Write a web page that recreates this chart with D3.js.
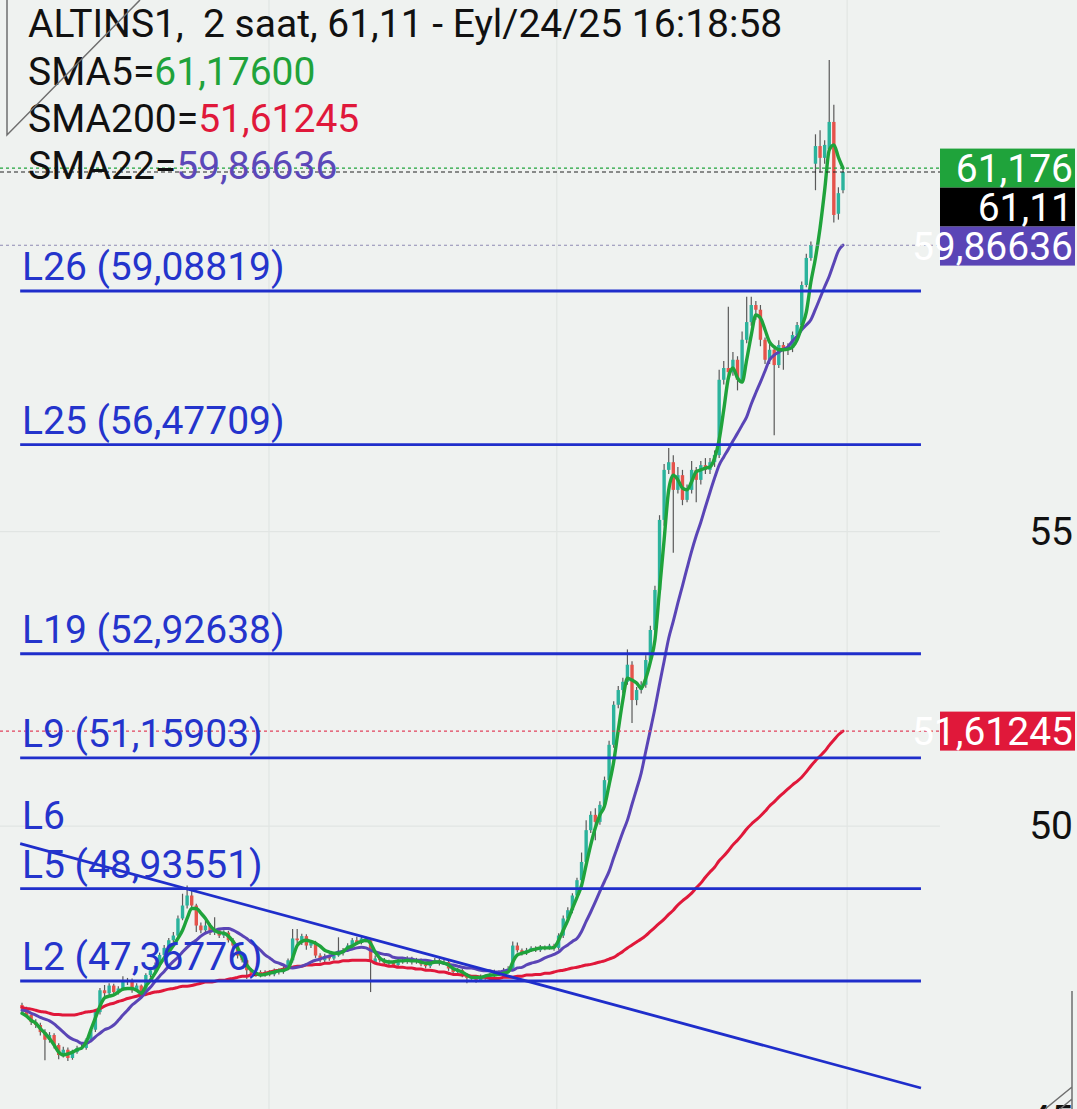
<!DOCTYPE html>
<html>
<head>
<meta charset="utf-8">
<script src="https://cdn.jsdelivr.net/npm/d3@7"></script>
<style>
  html, body { margin: 0; padding: 0; background: #eff2f0; }
  svg { display: block; }
  text { font-family: Roboto, "Noto Sans", sans-serif; }
</style>
</head>
<body>
<svg id="chart" width="1077" height="1109"></svg>
<script>
// ALTINS1, 2-hour candles with SMA5 / SMA22 / SMA200 and drawn levels

const opens = [
46.96,46.90,46.79,46.67,46.62,46.50,46.37,46.45,46.28,46.11,
46.20,46.06,46.16,46.23,46.23,46.37,46.54,46.84,47.21,47.16,
47.29,47.18,47.24,47.35,47.38,47.21,47.29,47.18,47.47,47.55,
47.64,47.81,47.93,48.06,48.14,48.43,48.65,48.82,48.65,48.31,
48.23,48.31,48.19,48.23,48.14,48.19,48.06,47.97,47.80,47.72,
47.55,47.47,47.52,47.47,47.52,47.48,47.55,47.52,47.58,47.72,
48.09,48.06,48.13,47.97,48.02,47.80,47.72,47.79,47.75,47.80,
47.84,47.89,47.97,48.06,48.02,48.09,48.06,47.69,47.75,47.72,
47.67,47.69,47.64,47.72,47.69,47.75,47.69,47.72,47.65,47.62,
47.69,47.72,47.67,47.69,47.58,47.52,47.55,47.47,47.42,47.43,
47.38,47.45,47.42,47.47,47.52,47.48,47.55,47.58,47.97,47.89,
47.84,47.89,47.93,47.89,47.94,47.93,47.97,47.93,48.14,48.43,
48.57,48.82,49.08,49.39,49.93,50.19,50.07,50.36,50.78,51.38,
52.06,52.31,52.45,52.74,52.14,52.31,52.40,52.82,53.33,54.01,
55.20,56.05,56.18,55.71,55.96,55.54,55.71,56.05,55.88,56.13,
56.05,56.18,56.30,57.58,57.78,57.71,57.92,57.58,58.26,58.56,
58.85,58.77,58.26,57.92,58.09,57.83,58.17,58.09,58.12,58.34,
58.51,59.19,59.65,61.25,61.55,61.35,61.50,61.96,60.40,60.80];

const highs = [
47.00,46.93,46.83,46.72,46.66,46.55,46.50,46.48,46.31,46.25,
46.24,46.20,46.27,46.30,46.40,46.58,46.88,47.25,47.30,47.33,
47.32,47.28,47.45,47.42,47.41,47.33,47.31,47.50,47.60,47.68,
47.85,47.98,48.10,48.20,48.48,48.85,48.99,48.90,48.68,48.36,
48.40,48.35,48.45,48.27,48.23,48.22,48.10,48.00,47.84,47.75,
47.58,47.56,47.55,47.55,47.55,47.58,47.58,47.62,47.75,48.25,
48.25,48.17,48.16,48.06,48.05,47.84,47.83,47.82,47.84,48.11,
47.93,48.01,48.10,48.12,48.13,48.12,48.10,47.80,47.78,47.76,
47.73,47.72,47.75,47.76,47.79,47.78,47.76,47.75,47.68,47.72,
47.76,47.75,47.73,47.72,47.62,47.59,47.58,47.50,47.47,47.46,
47.48,47.48,47.50,47.56,47.55,47.59,47.62,48.04,48.02,47.92,
47.93,47.96,47.96,47.98,47.97,48.00,48.00,48.18,48.48,48.62,
48.86,49.12,49.55,50.10,50.25,50.30,50.42,50.84,51.45,52.12,
52.38,52.52,53.00,52.80,52.36,52.46,52.90,53.40,54.08,55.28,
56.15,56.42,56.30,56.10,56.05,55.80,56.20,56.10,56.20,56.25,
56.25,56.38,57.75,57.90,58.82,58.05,57.98,58.40,58.99,58.99,
58.92,58.85,58.30,58.20,58.15,58.25,58.22,58.20,58.40,58.56,
59.25,59.72,59.93,61.75,61.82,61.65,63.01,62.25,60.85,61.18];

const lows = [
46.85,46.74,46.62,46.57,46.44,46.02,46.32,46.22,46.04,46.07,
46.01,46.03,46.13,46.20,46.20,46.34,46.50,46.80,47.10,47.12,
47.14,47.14,47.20,47.30,47.17,47.18,47.14,47.15,47.43,47.50,
47.60,47.77,47.89,48.02,48.10,48.40,48.60,48.60,48.20,48.18,
48.20,48.15,48.15,48.10,48.10,48.02,47.93,47.75,47.68,47.40,
47.42,47.44,47.43,47.44,47.45,47.45,47.48,47.49,47.55,47.68,
48.00,47.98,47.90,47.93,47.76,47.68,47.69,47.71,47.72,47.78,
47.80,47.86,47.94,47.98,47.99,48.02,47.18,47.65,47.68,47.63,
47.64,47.60,47.61,47.66,47.66,47.65,47.66,47.62,47.58,47.59,
47.66,47.63,47.64,47.54,47.48,47.49,47.43,47.33,47.39,47.34,
47.35,47.39,47.39,47.44,47.45,47.45,47.52,47.55,47.85,47.80,
47.81,47.86,47.86,47.86,47.89,47.90,47.88,47.90,48.10,48.38,
48.52,48.78,49.03,49.35,49.88,49.76,50.02,50.30,50.72,51.33,
52.00,52.25,52.40,51.75,52.05,52.25,52.35,52.78,53.28,53.95,
55.10,55.98,54.64,55.65,55.45,55.50,55.65,55.50,55.80,55.98,
55.98,56.10,56.25,57.50,57.55,57.65,57.40,57.52,58.20,58.50,
58.60,58.15,57.85,57.85,56.64,57.78,57.75,58.00,58.05,58.28,
58.45,59.15,59.60,60.80,61.10,61.25,61.45,60.25,60.30,60.75];

const closes = [
46.90,46.79,46.67,46.62,46.50,46.37,46.45,46.28,46.11,46.20,
46.06,46.16,46.23,46.23,46.37,46.54,46.84,47.21,47.16,47.29,
47.18,47.24,47.35,47.38,47.21,47.29,47.18,47.47,47.55,47.64,
47.81,47.93,48.06,48.14,48.43,48.65,48.82,48.65,48.31,48.23,
48.31,48.19,48.23,48.14,48.19,48.06,47.97,47.80,47.72,47.55,
47.47,47.52,47.47,47.52,47.48,47.55,47.52,47.58,47.72,48.09,
48.06,48.13,47.97,48.02,47.80,47.72,47.79,47.75,47.80,47.84,
47.89,47.97,48.06,48.02,48.09,48.06,47.69,47.75,47.72,47.67,
47.69,47.64,47.72,47.69,47.75,47.69,47.72,47.65,47.62,47.69,
47.72,47.67,47.69,47.58,47.52,47.55,47.47,47.42,47.43,47.38,
47.45,47.42,47.47,47.52,47.48,47.55,47.58,47.97,47.89,47.84,
47.89,47.93,47.89,47.94,47.93,47.97,47.93,48.14,48.43,48.57,
48.82,49.08,49.39,49.93,50.19,50.07,50.36,50.78,51.38,52.06,
52.31,52.45,52.74,52.14,52.31,52.40,52.82,53.33,54.01,55.20,
56.05,56.18,55.71,55.96,55.54,55.71,56.05,55.88,56.13,56.05,
56.18,56.30,57.58,57.78,57.71,57.92,57.58,58.26,58.56,58.85,
58.77,58.26,57.92,58.09,57.83,58.17,58.09,58.12,58.34,58.51,
59.19,59.65,59.87,61.55,61.35,61.57,61.96,60.38,60.75,61.11];

const sma5 = [
46.82,46.77,46.70,46.65,46.56,46.48,46.39,46.28,46.16,46.11,
46.13,46.16,46.20,46.23,46.33,46.54,46.74,46.94,47.08,47.11,
47.13,47.18,47.23,47.24,47.24,47.21,47.16,47.28,47.38,47.50,
47.64,47.76,47.86,47.97,48.09,48.23,48.43,48.60,48.60,48.52,
48.43,48.31,48.23,48.19,48.18,48.13,48.04,47.93,47.77,47.64,
47.55,47.50,47.47,47.48,47.50,47.52,47.54,47.55,47.58,47.76,
47.97,48.04,48.06,48.04,48.01,47.96,47.89,47.86,47.84,47.84,
47.87,47.93,47.96,48.01,48.04,48.06,48.01,47.86,47.76,47.71,
47.69,47.69,47.71,47.71,47.72,47.71,47.71,47.69,47.67,47.67,
47.69,47.69,47.67,47.64,47.58,47.55,47.52,47.47,47.43,47.43,
47.43,47.45,47.47,47.47,47.48,47.50,47.52,47.69,47.81,47.84,
47.86,47.89,47.91,47.93,47.93,47.93,47.94,48.06,48.23,48.40,
48.60,48.79,48.99,49.34,49.68,49.97,50.19,50.34,50.70,51.09,
51.63,52.14,52.51,52.48,52.43,52.34,52.51,52.79,53.16,54.01,
54.86,55.71,55.96,55.88,55.74,55.71,55.85,56.02,56.05,56.08,
56.10,56.25,56.56,57.07,57.61,57.78,57.61,57.54,57.92,58.34,
58.68,58.63,58.43,58.22,58.14,58.09,58.09,58.10,58.14,58.26,
58.48,58.73,59.24,59.65,60.16,60.80,61.48,61.57,61.36,61.176];

const sma22 = [
46.87,46.86,46.82,46.79,46.75,46.72,46.69,46.64,46.57,46.50,
46.43,46.38,46.35,46.31,46.31,46.35,46.42,46.48,46.54,46.57,
46.62,46.70,46.79,46.87,46.96,47.02,47.09,47.18,47.26,47.36,
47.45,47.53,47.62,47.70,47.77,47.86,47.94,48.01,48.06,48.13,
48.18,48.21,48.23,48.25,48.26,48.26,48.23,48.19,48.14,48.09,
48.02,47.96,47.89,47.81,47.76,47.70,47.67,47.64,47.60,47.59,
47.60,47.62,47.65,47.69,47.72,47.74,47.77,47.79,47.82,47.86,
47.87,47.89,47.91,47.93,47.94,47.93,47.89,47.86,47.84,47.82,
47.81,47.77,47.76,47.76,47.74,47.74,47.72,47.72,47.72,47.71,
47.69,47.69,47.67,47.65,47.64,47.62,47.60,47.59,47.59,47.57,
47.55,47.54,47.54,47.52,47.52,47.54,47.55,47.55,47.59,47.60,
47.64,47.67,47.69,47.72,47.76,47.79,47.82,47.86,47.93,47.98,
48.04,48.09,48.21,48.38,48.54,48.71,48.89,49.06,49.23,49.46,
49.68,49.90,50.10,50.37,50.63,50.90,51.27,51.63,52.00,52.41,
52.80,53.19,53.48,53.79,54.08,54.38,54.67,54.93,55.16,55.42,
55.67,55.91,56.13,56.27,56.40,56.54,56.67,56.81,56.95,57.17,
57.36,57.54,57.73,57.92,58.00,58.05,58.10,58.14,58.24,58.32,
58.43,58.51,58.60,58.78,58.97,59.16,59.34,59.56,59.77,59.86636];

const sma200 = [
46.92,46.90,46.89,46.87,46.85,46.84,46.82,46.80,46.80,46.79,
46.79,46.79,46.80,46.82,46.84,46.85,46.87,46.90,46.94,46.97,
46.99,47.02,47.04,47.07,47.09,47.11,47.13,47.14,47.16,47.18,
47.19,47.21,47.23,47.24,47.26,47.28,47.28,47.29,47.31,47.33,
47.35,47.35,47.36,47.38,47.38,47.40,47.41,47.43,47.45,47.45,
47.47,47.48,47.48,47.50,47.52,47.54,47.55,47.57,47.59,47.60,
47.62,47.62,47.64,47.64,47.65,47.65,47.67,47.67,47.69,47.69,
47.71,47.71,47.72,47.72,47.72,47.72,47.71,47.67,47.65,47.64,
47.62,47.62,47.60,47.60,47.59,47.59,47.57,47.57,47.55,47.55,
47.54,47.52,47.52,47.50,47.48,47.48,47.47,47.47,47.45,47.45,
47.43,47.43,47.41,47.41,47.41,47.43,47.43,47.43,47.45,47.45,
47.47,47.47,47.48,47.48,47.50,47.50,47.52,47.54,47.55,47.57,
47.59,47.60,47.62,47.64,47.65,47.67,47.69,47.71,47.74,47.77,
47.82,47.87,47.93,47.98,48.03,48.08,48.14,48.21,48.28,48.35,
48.42,48.50,48.57,48.66,48.73,48.79,48.86,48.95,49.03,49.13,
49.22,49.30,49.41,49.49,49.58,49.68,49.76,49.85,49.95,50.03,
50.10,50.17,50.25,50.34,50.41,50.49,50.56,50.63,50.70,50.76,
50.83,50.92,51.02,51.11,51.19,51.27,51.37,51.46,51.55,51.61245];

// horizontal levels
const levelNames  = ["L26", "L25", "L19", "L9", "L5", "L2"];
const levelValues = [59.08819, 56.47709, 52.92638, 51.15903, 48.93551, 47.36776];

// L6 trend line anchors (bar index, price)
const trendName   = "L6";
const trendBars   = [-0.4, 196];
const trendValues = [49.70, 45.55];

// price axis ticks and session separators (bar index)
const priceTicks  = [45, 50, 55];
const sessionBars = [53.85, 116.6, 179.9];

const symbol = "ALTINS1";
const period = "2 saat";
const stamp  = "Eyl/24/25 16:18:58";

// ---------------------------------------------------------------
const W = 1077, H = 1109;
const plotRight = 940;
const C = {
  bg: "#eff2f0", grid: "#e1e5e3", up: "#2bb39c", down: "#e5534b", wick: "#5a5a5a",
  sma5: "#1fa33b", sma22: "#5a45b6", sma200: "#e0183a", level: "#1f2ecb", text: "#111111"
};
const FS = 39;

const loc = d3.formatLocale({ decimal: ",", thousands: ".", grouping: [3], currency: ["", ""] });
const f5 = loc.format(".5f"), f3 = loc.format(".3f"), f2 = loc.format(".2f"), f0 = loc.format("d");

const n = closes.length;
const x = d3.scaleLinear().domain([0, n - 1]).range([22, 843]);
const y = d3.scaleLinear().domain([levelValues[5], levelValues[0]]).range([981, 291]);

const svg = d3.select("#chart");
svg.append("rect").attr("width", W).attr("height", H).attr("fill", C.bg);

// grid
const grid = svg.append("g");
grid.selectAll("line.v").data(sessionBars).join("line")
  .attr("x1", d => x(d)).attr("x2", d => x(d)).attr("y1", 0).attr("y2", H)
  .attr("stroke", C.grid).attr("stroke-width", 1.2);
grid.selectAll("line.h").data(priceTicks).join("line")
  .attr("x1", 0).attr("x2", plotRight).attr("y1", d => y(d)).attr("y2", d => y(d))
  .attr("stroke", C.grid).attr("stroke-width", 1.2);

// candles
const bars = d3.range(n).map(i => ({ i, o: opens[i], h: highs[i], l: lows[i], c: closes[i] }));
const cg = svg.append("g");
cg.selectAll("line").data(bars).join("line")
  .attr("x1", d => x(d.i)).attr("x2", d => x(d.i))
  .attr("y1", d => y(d.h)).attr("y2", d => y(d.l))
  .attr("stroke", C.wick).attr("stroke-width", 1.2);
cg.selectAll("rect").data(bars).join("rect")
  .attr("x", d => x(d.i) - 1.7).attr("width", 3.4)
  .attr("y", d => y(Math.max(d.o, d.c)))
  .attr("height", d => Math.max(1.2, Math.abs(y(d.o) - y(d.c))))
  .attr("fill", d => d.c >= d.o ? C.up : C.down);

// moving averages
const line = d3.line().x((d, i) => x(i)).y(d => y(d)).curve(d3.curveMonotoneX);
[[sma200, C.sma200, 3], [sma22, C.sma22, 3], [sma5, C.sma5, 3.4]].forEach(([arr, col, w]) => {
  svg.append("path").datum(arr).attr("d", line)
    .attr("fill", "none").attr("stroke", col).attr("stroke-width", w)
    .attr("stroke-linejoin", "round").attr("stroke-linecap", "round");
});

// dotted value guides
const guides = [
  { v: sma5[n - 1],   col: C.sma5,    dash: "3,3" },
  { v: closes[n - 1], col: "#222",    dash: "4,3" },
  { v: sma22[n - 1],  col: "#8f8ab2", dash: "3,3" },
  { v: sma200[n - 1], col: "#e2435c", dash: "3,3" }
];
svg.append("g").selectAll("line").data(guides).join("line")
  .attr("x1", 0).attr("x2", plotRight)
  .attr("y1", d => y(d.v)).attr("y2", d => y(d.v))
  .attr("stroke", d => d.col).attr("stroke-width", 1.1).attr("stroke-dasharray", d => d.dash);

// levels
const lg = svg.append("g");
lg.selectAll("line").data(levelValues).join("line")
  .attr("x1", x(-0.4)).attr("x2", x(trendBars[1]))
  .attr("y1", d => y(d)).attr("y2", d => y(d))
  .attr("stroke", C.level).attr("stroke-width", 2.8);
lg.append("line")
  .attr("x1", x(trendBars[0])).attr("y1", y(trendValues[0]))
  .attr("x2", x(trendBars[1])).attr("y2", y(trendValues[1]))
  .attr("stroke", C.level).attr("stroke-width", 2.8);
lg.selectAll("text.lv").data(levelValues).join("text")
  .attr("x", 22).attr("y", d => y(d) - 11)
  .attr("font-size", FS).attr("fill", "#2434cc")
  .text((d, i) => `${levelNames[i]} (${f5(d)})`);
lg.append("text").attr("x", 22).attr("y", y(trendValues[0]) - 15)
  .attr("font-size", FS).attr("fill", "#2434cc").text(trendName);

// price axis
const axis = svg.append("g").attr("transform", `translate(${W - 4},0)`)
  .call(d3.axisRight(y).tickValues(priceTicks).tickSize(0).tickFormat(f0));
axis.select(".domain").remove();
axis.selectAll("text").attr("x", 0).attr("text-anchor", "end")
  .attr("font-size", FS).attr("fill", C.text)
  .attr("font-family", "Roboto, 'Noto Sans', sans-serif");

// value badges on the price scale
const bh = 39;
const badges = [
  { v: sma5[n - 1],   txt: f3(sma5[n - 1]),   col: C.sma5 },
  { v: closes[n - 1], txt: f2(closes[n - 1]), col: "#000000" },
  { v: sma22[n - 1],  txt: f5(sma22[n - 1]),  col: C.sma22 },
  { v: sma200[n - 1], txt: f5(sma200[n - 1]), col: C.sma200 }
];
let prevBottom = -Infinity;
badges.forEach(b => {
  let top = y(b.v) - bh / 2;
  if (top < prevBottom) top = prevBottom;
  prevBottom = top + bh;
  b.top = top;
});
const bg = svg.append("g");
bg.selectAll("rect").data(badges).join("rect")
  .attr("x", plotRight).attr("y", d => d.top).attr("width", W - 2 - plotRight).attr("height", bh)
  .attr("fill", d => d.col);
bg.selectAll("text").data(badges).join("text")
  .attr("x", W - 4).attr("y", d => d.top + bh / 2).attr("dy", "0.36em")
  .attr("text-anchor", "end").attr("font-size", FS).attr("fill", "#ffffff")
  .text(d => d.txt);

// legend
const hd = svg.append("g").attr("font-size", FS).attr("fill", C.text);
hd.append("text").attr("x", 28).attr("y", 37).attr("xml:space", "preserve")
  .style("white-space", "pre")
  .text(`${symbol},  ${period}, ${f2(closes[n - 1])} - ${stamp}`);
const legend = [
  { name: "SMA5=",   val: f5(sma5[n - 1]),   col: C.sma5 },
  { name: "SMA200=", val: f5(sma200[n - 1]), col: C.sma200 },
  { name: "SMA22=",  val: f5(sma22[n - 1]),  col: "#5b48b9" }
];
legend.forEach((d, i) => {
  const t = hd.append("text").attr("x", 28).attr("y", 85 + i * 47);
  t.append("tspan").text(d.name);
  t.append("tspan").attr("fill", d.col).text(d.val);
});

// drawing-tool frame marks in the corners
const deco = svg.append("g").attr("stroke", "#6f6f6f").attr("stroke-width", 1.5).attr("fill", "none");
deco.append("path").attr("d", "M7,0 L7,135 L140,0");
deco.append("path").attr("d", "M1072,991 L1072,1109 M1045,1109 L1072,1087 M1060,1109 L1072,1099");
</script>
</body>
</html>
